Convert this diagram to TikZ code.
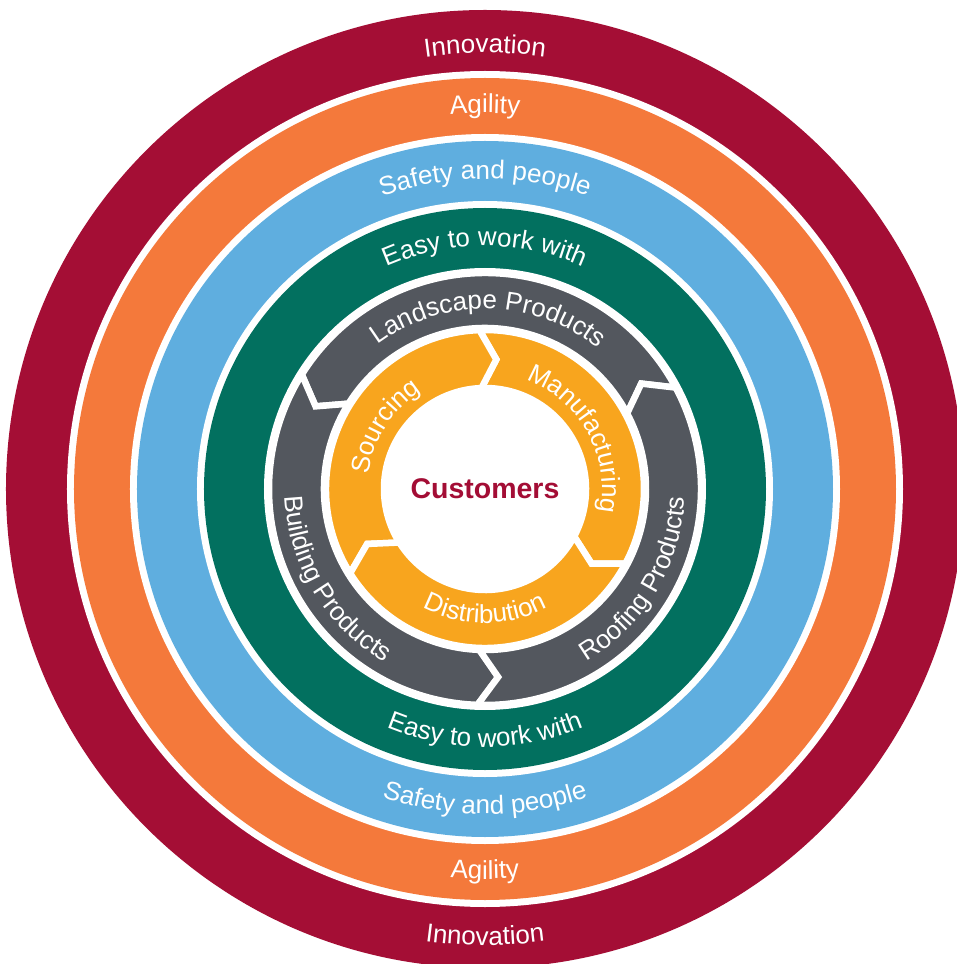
\documentclass[tikz,border=0pt]{standalone}
\usepackage{fontspec}
\setmainfont{Liberation Sans}
\usetikzlibrary{decorations.text}

\definecolor{ringred}{HTML}{A40E35}
\definecolor{ringorange}{HTML}{F4793B}
\definecolor{ringblue}{HTML}{5FAEDF}
\definecolor{ringgreen}{HTML}{02705F}
\definecolor{ringgray}{HTML}{53575E}
\definecolor{ringamber}{HTML}{F8A51E}
\definecolor{custred}{HTML}{A30D35}

\newcommand{\ringfont}{\fontsize{26}{30}\selectfont}

\begin{document}
\begin{tikzpicture}[x=1pt, y=1pt,
    ringlabel/.style={decorate, decoration={text along path, text align=center, text color=white, text={|\ringfont|#1}}},
    segment/.style={fill=#1, draw=white, line width=6.5}]
  \path[use as bounding box, fill=white] (-485,-475) rectangle (471,489);

  % Value rings, outside in
  \foreach \r/\c in {479/ringred, 418/white, 411/ringorange, 355/white, 348/ringblue, 288/white, 281/ringgreen, 221/white}
    \fill[\c] (0,0) circle[radius=\r];

  % Product divisions (counter-clockwise arrows)
  \foreach \a/\b in {28/148, 148/268, 268/388}
    \path[segment=ringgray] (\a:216) -- ({\a+6}:188.5) -- (\a:161) arc[start angle=\a, end angle=\b, radius=161]
      -- ({\b+6}:188.5) -- (\b:216) arc[start angle=\b, end angle=\a, radius=216] -- cycle;

  % Supply chain (clockwise arrows)
  \foreach \a/\b in {-28/92, 92/212, 212/332}
    \path[segment=ringamber] (\a:159) -- ({\a-7}:130) -- (\a:101) arc[start angle=\a, end angle=\b, radius=101]
      -- ({\b-7}:130) -- (\b:159) arc[start angle=\b, end angle=\a, radius=159] -- cycle;

  % Labels on top
  \path[ringlabel=Innovation] (150:436) arc[start angle=150, end angle=30, radius=436];
  \path[ringlabel=Agility] (150:376) arc[start angle=150, end angle=30, radius=376];
  \path[ringlabel=Safety and people] (150:310) arc[start angle=150, end angle=30, radius=310];
  \path[ringlabel=Easy to work with] (150:243) arc[start angle=150, end angle=30, radius=243];

  % Labels at the bottom
  \path[ringlabel=Innovation] (210:456) arc[start angle=210, end angle=330, radius=456];
  \path[ringlabel=Agility] (210:390) arc[start angle=210, end angle=330, radius=390];
  \path[ringlabel=Safety and people] (210:325) arc[start angle=210, end angle=330, radius=325];
  \path[ringlabel=Easy to work with] (210:258) arc[start angle=210, end angle=330, radius=258];

  % Division labels
  \path[ringlabel=Landscape Products] (149:180) arc[start angle=149, end angle=29, radius=180];
  \path[ringlabel=Building Products] (151:200) arc[start angle=151, end angle=271, radius=200];
  \path[ringlabel=Roofing Products] (-91:200) arc[start angle=-91, end angle=29, radius=200];

  % Supply chain labels
  \path[ringlabel=Sourcing] (208:117) arc[start angle=208, end angle=88, radius=117];
  \path[ringlabel=Manufacturing] (89:117) arc[start angle=89, end angle=-31, radius=117];
  \path[ringlabel=Distribution] (210:134) arc[start angle=210, end angle=330, radius=134];

  \node[text=custred, font=\fontsize{28.5}{32}\selectfont\bfseries] (hub) at (0,0) {Customers};
\end{tikzpicture}
\end{document}
